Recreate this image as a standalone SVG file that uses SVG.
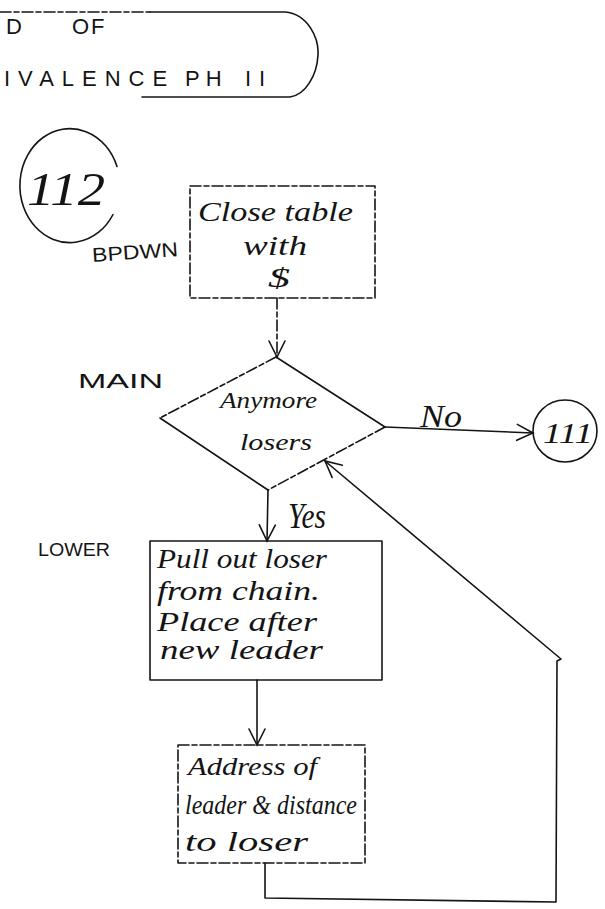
<svg xmlns="http://www.w3.org/2000/svg" width="605" height="909" viewBox="0 0 605 909">
  <defs>
    <!-- open hand-drawn arrowhead -->
    <marker id="vee" viewBox="-18 -10 20 20" refX="0" refY="0" markerWidth="20" markerHeight="20" orient="auto" markerUnits="userSpaceOnUse">
      <path d="M-16,-8 L0,0 L-16,8" fill="none" stroke="#141414" stroke-width="1.6" stroke-linecap="round"/>
    </marker>
    <style>
      .ln{fill:none;stroke:#141414;stroke-width:1.6;stroke-linecap:round;stroke-linejoin:round}
      .dash{stroke-dasharray:11 3 5 3}
      .hand{font-family:"Liberation Serif","DejaVu Serif",serif;font-style:italic;fill:#141414}
      .caps{font-family:"Liberation Sans","DejaVu Sans",sans-serif;fill:#141414}
    </style>
  </defs>

  <rect x="0" y="0" width="605" height="909" fill="#ffffff"/>

  <!-- terminator at the top of the page, running off the left edge -->
  <g id="end-terminator">
    <path class="ln dash" d="M0,12 L150,12"/>
    <path class="ln" d="M150,12 L285,12 C308,14 319,38 318,55 C317,76 305,95 290,97 L142,97"/>
    <text class="caps" x="6" y="34" font-size="22">D</text>
    <text class="caps" x="72" y="34" font-size="22" letter-spacing="2">OF</text>
    <text class="caps" x="4" y="86" font-size="22" letter-spacing="8">IVALENCE</text>
    <text class="caps" x="185" y="86" font-size="22" letter-spacing="6">PH</text>
    <text class="caps" x="245" y="86" font-size="22" letter-spacing="8">II</text>
  </g>

  <!-- entry connector 112 -->
  <g id="connector-112">
    <path class="ln" d="M117,166.5 A50,57 0 1 0 113,214.5"/>
    <text class="hand" x="27" y="205" font-size="46" textLength="78" lengthAdjust="spacingAndGlyphs">112</text>
  </g>

  <text class="caps" x="92" y="259" font-size="20" textLength="86" lengthAdjust="spacingAndGlyphs" transform="rotate(-4 135 252)">BPDWN</text>

  <!-- process: close table -->
  <g id="close-table">
    <rect class="ln dash" x="190" y="186" width="185" height="112"/>
    <text class="hand" x="198" y="221" font-size="28" textLength="155" lengthAdjust="spacingAndGlyphs">Close table</text>
    <text class="hand" x="243" y="255" font-size="28" textLength="64" lengthAdjust="spacingAndGlyphs">with</text>
    <text class="hand" x="268" y="287" font-size="28" textLength="22" lengthAdjust="spacingAndGlyphs">$</text>
  </g>

  <text class="caps" x="78" y="388" font-size="20" textLength="85" lengthAdjust="spacingAndGlyphs">MAIN</text>

  <!-- decision: anymore losers -->
  <g id="anymore-losers">
    <path class="ln dash" d="M276,357 L160,418"/>
    <path class="ln" d="M276,357 L385,427"/>
    <path class="ln" d="M160,418 L268,490"/>
    <path class="ln dash" d="M385,427 L268,490"/>
    <text class="hand" x="220" y="408" font-size="24" textLength="97" lengthAdjust="spacingAndGlyphs">Anymore</text>
    <text class="hand" x="240" y="450" font-size="24" textLength="72" lengthAdjust="spacingAndGlyphs">losers</text>
  </g>

  <!-- exit connector 111 -->
  <g id="connector-111">
    <ellipse class="ln" cx="565" cy="431" rx="32" ry="31"/>
    <text class="hand" x="543" y="443" font-size="30" textLength="50" lengthAdjust="spacingAndGlyphs">111</text>
  </g>

  <text class="caps" x="38" y="556" font-size="18" textLength="72" lengthAdjust="spacingAndGlyphs">LOWER</text>

  <!-- process: move loser behind new leader -->
  <g id="pull-out-loser">
    <rect class="ln" x="150" y="541" width="232" height="139"/>
    <text class="hand" x="157" y="568" font-size="27" textLength="170" lengthAdjust="spacingAndGlyphs">Pull out loser</text>
    <text class="hand" x="157" y="600" font-size="27" textLength="163" lengthAdjust="spacingAndGlyphs">from chain.</text>
    <text class="hand" x="157" y="631" font-size="27" textLength="160" lengthAdjust="spacingAndGlyphs">Place after</text>
    <text class="hand" x="160" y="659" font-size="27" textLength="163" lengthAdjust="spacingAndGlyphs">new leader</text>
  </g>

  <!-- process: leader address and distance -->
  <g id="address-of-leader">
    <rect class="ln dash" x="178" y="745" width="187" height="118"/>
    <text class="hand" x="188" y="775" font-size="26" textLength="129" lengthAdjust="spacingAndGlyphs">Address of</text>
    <text class="hand" x="185" y="814" font-size="27" textLength="172" lengthAdjust="spacingAndGlyphs">leader &amp; distance</text>
    <text class="hand" x="185" y="851" font-size="28" textLength="123" lengthAdjust="spacingAndGlyphs">to loser</text>
  </g>

  <!-- flow lines -->
  <g id="connectors">
    <path class="ln dash" d="M277,298 V357" marker-end="url(#vee)"/>
    <path class="ln" d="M385,427 L533,433" marker-end="url(#vee)"/>
    <path class="ln" d="M268,490 L267,541" marker-end="url(#vee)"/>
    <path class="ln" d="M257,680 V745" marker-end="url(#vee)"/>
    <path class="ln" d="M265,863 V898 L556,902 L557,661 L561,659 L325,461" marker-end="url(#vee)"/>
    <text class="hand" x="420" y="427" font-size="32" textLength="42" lengthAdjust="spacingAndGlyphs">No</text>
    <text class="hand" x="288" y="528" font-size="36" textLength="38" lengthAdjust="spacingAndGlyphs">Yes</text>
  </g>
</svg>
